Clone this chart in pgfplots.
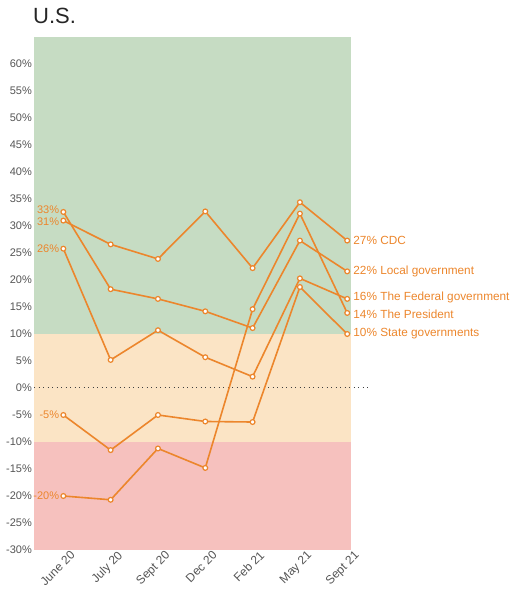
\documentclass[border=0pt]{standalone}
\usepackage{pgfplots}
\pgfplotsset{compat=1.18}
\usepackage{fontspec}
\setmainfont{Liberation Sans}
\definecolor{ora}{RGB}{236,134,44}
\definecolor{bgG}{RGB}{198,220,195}
\definecolor{bgY}{RGB}{251,228,197}
\definecolor{bgR}{RGB}{246,193,190}
\definecolor{tickgray}{RGB}{85,85,85}
\begin{document}
\begin{tikzpicture}[x=1pt,y=1pt]
\begin{axis}[
  at={(34pt,46pt)}, anchor=south west,
  scale only axis, width=317pt, height=513pt,
  xmin=-0.62, xmax=6.08, ymin=-30, ymax=65,
  axis line style={draw=none}, clip=false,
  xtick={0,1,2,3,4,5,6},
  xticklabels={June 20, July 20, Sept 20, Dec 20, Feb 21, May 21, Sept 21},
  ytick={-30,-25,-20,-15,-10,-5,0,5,10,15,20,25,30,35,40,45,50,55,60},
  yticklabels={-30\%,-25\%,-20\%,-15\%,-10\%,-5\%,0\%,5\%,10\%,15\%,20\%,25\%,30\%,35\%,40\%,45\%,50\%,55\%,60\%},
  major tick length=0pt, tick style={draw=none},
  yticklabel style={font=\fontsize{11}{12}\selectfont, text=tickgray, anchor=east, inner sep=1pt, xshift=-1pt},
  xticklabel style={font=\fontsize{12}{13}\selectfont, text=tickgray, rotate=45, anchor=north east, inner sep=0.5pt, xshift=5pt, yshift=-4pt},
  ser/.style={color=ora, line width=1.6pt, mark=*, mark size=2.4pt, mark options={fill=white, draw=ora, line width=1.2pt, solid}},
]
\fill[bgG] (axis cs:-0.62,10) rectangle (axis cs:6.08,65);
\fill[bgY] (axis cs:-0.62,-10) rectangle (axis cs:6.08,10);
\fill[bgR] (axis cs:-0.62,-30) rectangle (axis cs:6.08,-10);
\draw[black!75, line width=1pt, dash pattern=on 1pt off 3.5pt] (axis cs:-0.62,0) -- (axis cs:6.42,0);
% CDC
\addplot[ser] coordinates {(0,31.0) (1,26.6) (2,23.9) (3,32.7) (4,22.2) (5,34.4) (6,27.3)};
% Local government
\addplot[ser] coordinates {(0,32.6) (1,18.3) (2,16.5) (3,14.2) (4,11.1) (5,27.3) (6,21.6)};
% Federal government
\addplot[ser] coordinates {(0,25.8) (1,5.2) (2,10.7) (3,5.7) (4,2.1) (5,20.3) (6,16.5)};
% The President
\addplot[ser] coordinates {(0,-20.0) (1,-20.7) (2,-11.2) (3,-14.8) (4,14.6) (5,32.3) (6,13.9)};
% State governments
\addplot[ser] coordinates {(0,-5.0) (1,-11.5) (2,-5.0) (3,-6.2) (4,-6.3) (5,18.7) (6,10.0)};
\begin{scope}[every node/.style={text=ora, font=\fontsize{11}{12}\selectfont, inner sep=0pt}]
\node[anchor=east] at ([xshift=-4pt]axis cs:0,33.0) {33\%};
\node[anchor=east] at ([xshift=-4pt]axis cs:0,30.8) {31\%};
\node[anchor=east] at ([xshift=-4pt]axis cs:0,25.8) {26\%};
\node[anchor=east] at ([xshift=-4pt]axis cs:0,-5.0) {-5\%};
\node[anchor=east] at ([xshift=-4pt]axis cs:0,-20.0) {-20\%};
\end{scope}
\begin{scope}[every node/.style={text=ora, font=\fontsize{11.8}{13}\selectfont, inner sep=0pt}]
\node[anchor=west] at ([xshift=6pt]axis cs:6,27.3) {27\% CDC};
\node[anchor=west] at ([xshift=6pt]axis cs:6,21.6) {22\% Local government};
\node[anchor=west] at ([xshift=6pt]axis cs:6,16.7) {16\% The Federal government};
\node[anchor=west] at ([xshift=6pt]axis cs:6,13.7) {14\% The President};
\node[anchor=west] at ([xshift=6pt]axis cs:6,10.0) {10\% State governments};
\end{scope}
\end{axis}
\node[anchor=base west, inner sep=0pt, text=black!85, font=\fontsize{22}{24}\selectfont] at (33pt,572pt) {U.S.};
\pgfresetboundingbox
\path[use as bounding box] (0,0) rectangle (517pt,596pt);
\end{tikzpicture}
\end{document}
